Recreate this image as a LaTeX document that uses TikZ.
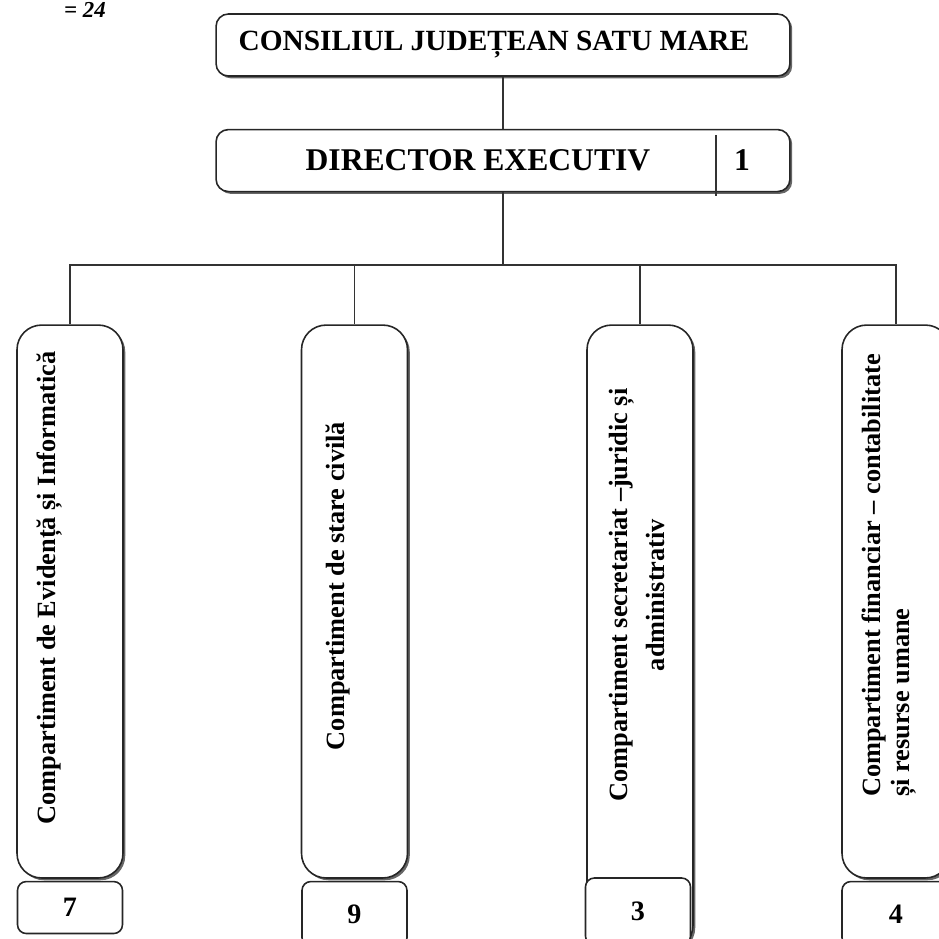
\documentclass[tikz,border=0pt]{standalone}
\usepackage{fontspec}
\setmainfont{Liberation Serif}
\usetikzlibrary{positioning,shadows}

\begin{document}
\begin{tikzpicture}[x=0.02cm, y=-0.02cm,
    box/.style={draw=black!85, line width=0.9pt, fill=white,
                general shadow={fill=black!60, shadow xshift=1.3pt, shadow yshift=-1.3pt}},
    head/.style={box, rounded corners=7pt, minimum width=11.48cm, minimum height=1.24cm},
    dept/.style={box, rounded corners=14pt, minimum width=2.12cm, minimum height=11.06cm},
    numbox/.style={draw=black!85, line width=0.9pt, fill=white, rounded corners=5pt,
                   minimum width=2.1cm, minimum height=1.04cm, font=\fontsize{16}{18}\selectfont\bfseries},
    vtext/.style={rotate=90, font=\fontsize{15}{18}\selectfont\bfseries},
    link/.style={draw=black!80, line width=1pt},
    node distance=1.04cm
]
    \useasboundingbox (0,0) rectangle (939,938);

    \node[font=\fontsize{13}{15}\selectfont\bfseries\itshape, anchor=base] (total) at (85,17) {= 24};

    % conducere
    \node[head, font=\fontsize{16.7}{19}\selectfont\bfseries] (cj) at (503,45) {CONSILIUL JUDEȚEAN SATU MARE\hspace*{0.36cm}};
    \node[head, below=of cj] (dir) {};
    \node[font=\fontsize{18}{21}\selectfont\bfseries] (dirlbl) at (478,160) {DIRECTOR EXECUTIV};
    \node[font=\fontsize{18}{21}\selectfont\bfseries] (dirnr) at (742,160) {1};
    \draw[link] (716,135) -- (716,196);

    % compartimente
    \node[dept] (cei) at (70,601.5) {};
    \node[dept] (csc) at (354.5,601.5) {};
    \node[dept, minimum height=12.5cm] (csj) at (640,637.5) {};
    \node[dept, minimum width=2.16cm] (cfc) at (896,601.5) {};

    \node[vtext] (ceilbl) at (50,588) {Compartiment de Evidență și Informatică};
    \node[vtext] (csclbl) at (338,586) {Compartiment de stare civilă};
    \node[vtext, align=center, font=\fontsize{15}{21}\selectfont\bfseries] (csjlbl) at (637,595)
        {Compartiment secretariat –juridic și\\administrativ};
    \node[vtext, align=left, anchor=west, font=\fontsize{15}{16.5}\selectfont\bfseries] (cfclbl) at (889,803)
        {Compartiment financiar – contabilitate\\și resurse umane};

    % numar de posturi
    \node[numbox, below=0.04cm of cei] (n7) {7};
    \node[numbox, below=0.04cm of csc, minimum height=1.3cm] (n9) {9};
    \node[numbox, minimum height=1.34cm] (n3) at (638,911.5) {3};
    \node[numbox, below=0.04cm of cfc, minimum height=1.3cm, minimum width=2.16cm] (n4) {4};

    % legaturi
    \coordinate (bus) at (503,265);
    \draw[link] (cj) -- (dir);
    \draw[link] (dir) -- (bus);
    \draw[link] (cei) |- (bus) -| (cfc);
    \draw[link] (csc) -- (csc |- bus);
    \draw[link] (csj) -- (csj |- bus);
\end{tikzpicture}
\end{document}
